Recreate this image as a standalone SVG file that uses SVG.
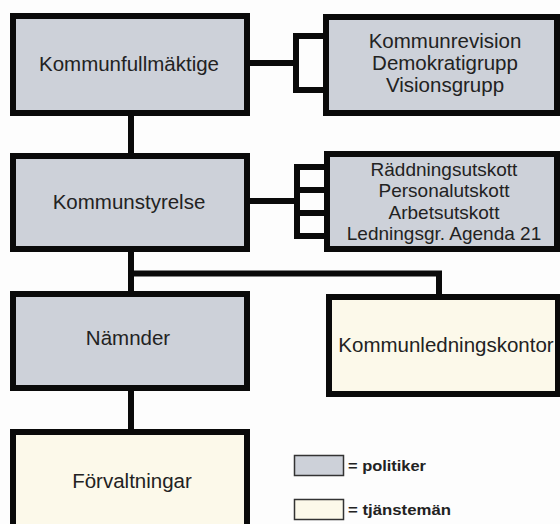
<svg xmlns="http://www.w3.org/2000/svg" width="560" height="524" viewBox="0 0 560 524">
<style>
.box{stroke:#0a0a0a;stroke-width:6}
.pol{fill:#cdd1d9}
.tj{fill:#fcf9ea}
.t{font-family:"Liberation Sans",Arial,sans-serif;font-size:20.5px;fill:#222;text-anchor:middle}
.s{font-size:19px}
.c{fill:none;stroke:#0a0a0a;stroke-width:6}
.leg{stroke:#333;stroke-width:1.5}
.lt{font-family:"Liberation Sans",Arial,sans-serif;font-size:15px;font-weight:bold;fill:#222}
</style>
<rect width="560" height="524" fill="#fdfdfd"/>
<g id="connectors">
<line class="c" x1="131" y1="113" x2="131" y2="156"/>
<line class="c" x1="247" y1="63" x2="296" y2="63"/>
<polyline class="c" points="326,36 296,36 296,90 326,90"/>
<line class="c" x1="247" y1="201" x2="297" y2="201"/>
<polyline class="c" points="327,167 297,167 297,236 327,236"/>
<line class="c" x1="297" y1="190" x2="327" y2="190"/>
<line class="c" x1="297" y1="213" x2="327" y2="213"/>
<line class="c" x1="131" y1="249" x2="131" y2="294" stroke-width="5.5"/>
<polyline class="c" points="131,273.5 439,273.5 439,297" stroke-width="5"/>
<line class="c" x1="131" y1="388" x2="131" y2="432"/>
</g>
<g id="kommunfullmaktige">
<rect class="box pol" x="13" y="16" width="234" height="97"/>
<text class="t" x="129" y="71">Kommunfullmäktige</text>
</g>
<g id="kommunrevision">
<rect class="box pol" x="326" y="17" width="231" height="96"/>
<text class="t" x="445" y="48">Kommunrevision</text>
<text class="t" x="445" y="70">Demokratigrupp</text>
<text class="t" x="445" y="91.5">Visionsgrupp</text>
</g>
<g id="kommunstyrelse">
<rect class="box pol" x="13" y="156" width="234" height="93"/>
<text class="t" x="129" y="209">Kommunstyrelse</text>
</g>
<g id="utskott">
<rect class="box pol" x="327" y="154" width="230" height="95"/>
<text class="t s" x="444" y="175.5">Räddningsutskott</text>
<text class="t s" x="444" y="197">Personalutskott</text>
<text class="t s" x="444" y="218.5">Arbetsutskott</text>
<text class="t s" x="444" y="240">Ledningsgr. Agenda 21</text>
</g>
<g id="namnder">
<rect class="box pol" x="13" y="294" width="234" height="94"/>
<text class="t" x="128" y="345">Nämnder</text>
</g>
<g id="kommunledningskontor">
<rect class="box tj" x="329" y="297" width="229" height="97"/>
<text class="t" x="446" y="352">Kommunledningskontor</text>
</g>
<g id="forvaltningar">
<rect class="box tj" x="13" y="432" width="234" height="110"/>
<text class="t" x="132" y="488">Förvaltningar</text>
</g>
<g id="legend">
<rect class="leg pol" x="294.5" y="455.5" width="49" height="20"/>
<text class="lt" x="348" y="471" textLength="78" lengthAdjust="spacingAndGlyphs">= politiker</text>
<rect class="leg tj" x="294.5" y="499.5" width="49" height="20"/>
<text class="lt" x="348" y="515" textLength="103" lengthAdjust="spacingAndGlyphs">= tjänstemän</text>
</g>
</svg>
